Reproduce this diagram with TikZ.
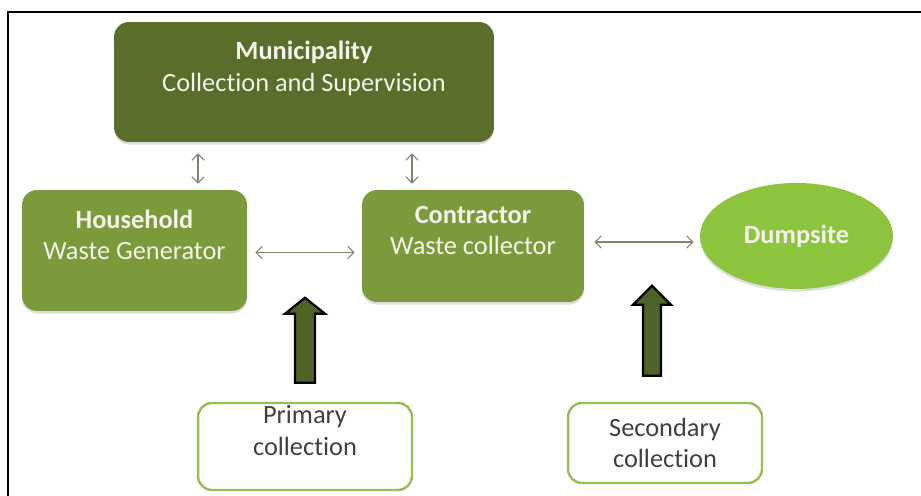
\documentclass[tikz,border=0pt]{standalone}
\usepackage{fontspec}
\setmainfont{Carlito}[Ligatures=NoCommon]
\usepackage{tikz}
\usetikzlibrary{shapes.geometric,arrows.meta,shadows}

\definecolor{muniGreen}{HTML}{5A6E2B}
\definecolor{midGreen}{HTML}{7A9A3B}
\definecolor{limeGreen}{HTML}{8DC43D}
\definecolor{arrowGreen}{HTML}{4F6228}
\definecolor{edgeGreen}{HTML}{9BBB59}
\definecolor{thinGray}{HTML}{7E8470}
\definecolor{boxText}{HTML}{F4F4EA}

\tikzset{
  greenbox/.style={rectangle, rounded corners=0.3cm, inner sep=0pt, align=center,
    text=boxText, font=\fontsize{15}{18}\selectfont,
    drop shadow={opacity=0.25, shadow xshift=0pt, shadow yshift=-1.5pt}},
  whitebox/.style={rectangle, rounded corners=0.28cm, draw=edgeGreen, line width=1.4pt,
    fill=white, inner sep=0pt, align=center, text=black!75,
    font=\fontsize{15}{18}\selectfont},
  twoway/.style={{Straight Barb[length=3.5pt,width=7pt]}-{Straight Barb[length=3.5pt,width=7pt]},
    draw=thinGray, line width=0.6pt},
  blockarrow/.style={draw=black, line width=1.3pt, fill=arrowGreen, line join=miter},
  frame/.style={draw=black, line width=1.3pt}
}

\begin{document}
\begin{tikzpicture}[x=0.02cm, y=-0.02cm]
    \useasboundingbox (0,0) rectangle (921,496);
    \draw[frame] (8,500) -- (8,12) -- (925,12);

    % boxes
    \node[greenbox, fill=muniGreen, minimum width=7.6cm, minimum height=2.4cm] (muni) at (304,82)
        {\textbf{Municipality}\\Collection and Supervision\\\mbox{}};
    \node[greenbox, fill=midGreen, minimum width=4.5cm, minimum height=2.42cm] (hh) at (134.5,250.5)
        {\textbf{Household}\\Waste Generator\\\mbox{}};
    \node[greenbox, fill=midGreen, minimum width=4.44cm, minimum height=2.24cm] (ctr) at (473,246)
        {\textbf{Contractor}\\Waste collector\\\mbox{}};
    \node[ellipse, fill=limeGreen, inner sep=0pt, minimum width=3.86cm, minimum height=2.12cm,
        text=boxText, font=\fontsize{15}{18}\selectfont\bfseries,
        drop shadow={opacity=0.25, shadow xshift=0pt, shadow yshift=-1.5pt}] (dump) at (796.5,236) {Dumpsite};
    \node[whitebox, minimum width=4.28cm, minimum height=1.74cm] (prim) at (305,446.5)
        {Primary\\collection\\\mbox{}};
    \node[whitebox, minimum width=3.88cm, minimum height=1.6cm] (sec) at (665,443)
        {Secondary\\collection};

    % thin two-way links
    \draw[twoway, shorten <=0.12cm, shorten >=0.22cm] ([xshift=1.27cm]hh.north) -- ([xshift=1.27cm]hh.north |- muni.south);
    \draw[twoway, shorten <=0.12cm, shorten >=0.22cm] ([xshift=-1.22cm]ctr.north) -- ([xshift=-1.22cm]ctr.north |- muni.south);
    \draw[twoway, shorten <=0.16cm, shorten >=0.14cm] ([yshift=-0.04cm]hh.east) -- ([yshift=-0.04cm]hh.east -| ctr.west);
    \draw[twoway, shorten <=0.2cm, shorten >=0.12cm] ([yshift=0.08cm]ctr.east) -- ([yshift=0.08cm]ctr.east -| dump.west);

    % block arrows up from the collection boxes
    \draw[blockarrow] ([yshift=0.38cm]prim.north) ++(-10,0) -- ++(0,-69) -- ++(-10,0) -- ++(20,-16)
        -- ++(20,16) -- ++(-10,0) -- ++(0,69) -- cycle;
    \draw[blockarrow] ([xshift=-0.26cm,yshift=0.52cm]sec.north) ++(-9,0) -- ++(0,-71) -- ++(-10,0) -- ++(19,-19)
        -- ++(19,19) -- ++(-10,0) -- ++(0,71) -- cycle;
\end{tikzpicture}
\end{document}
